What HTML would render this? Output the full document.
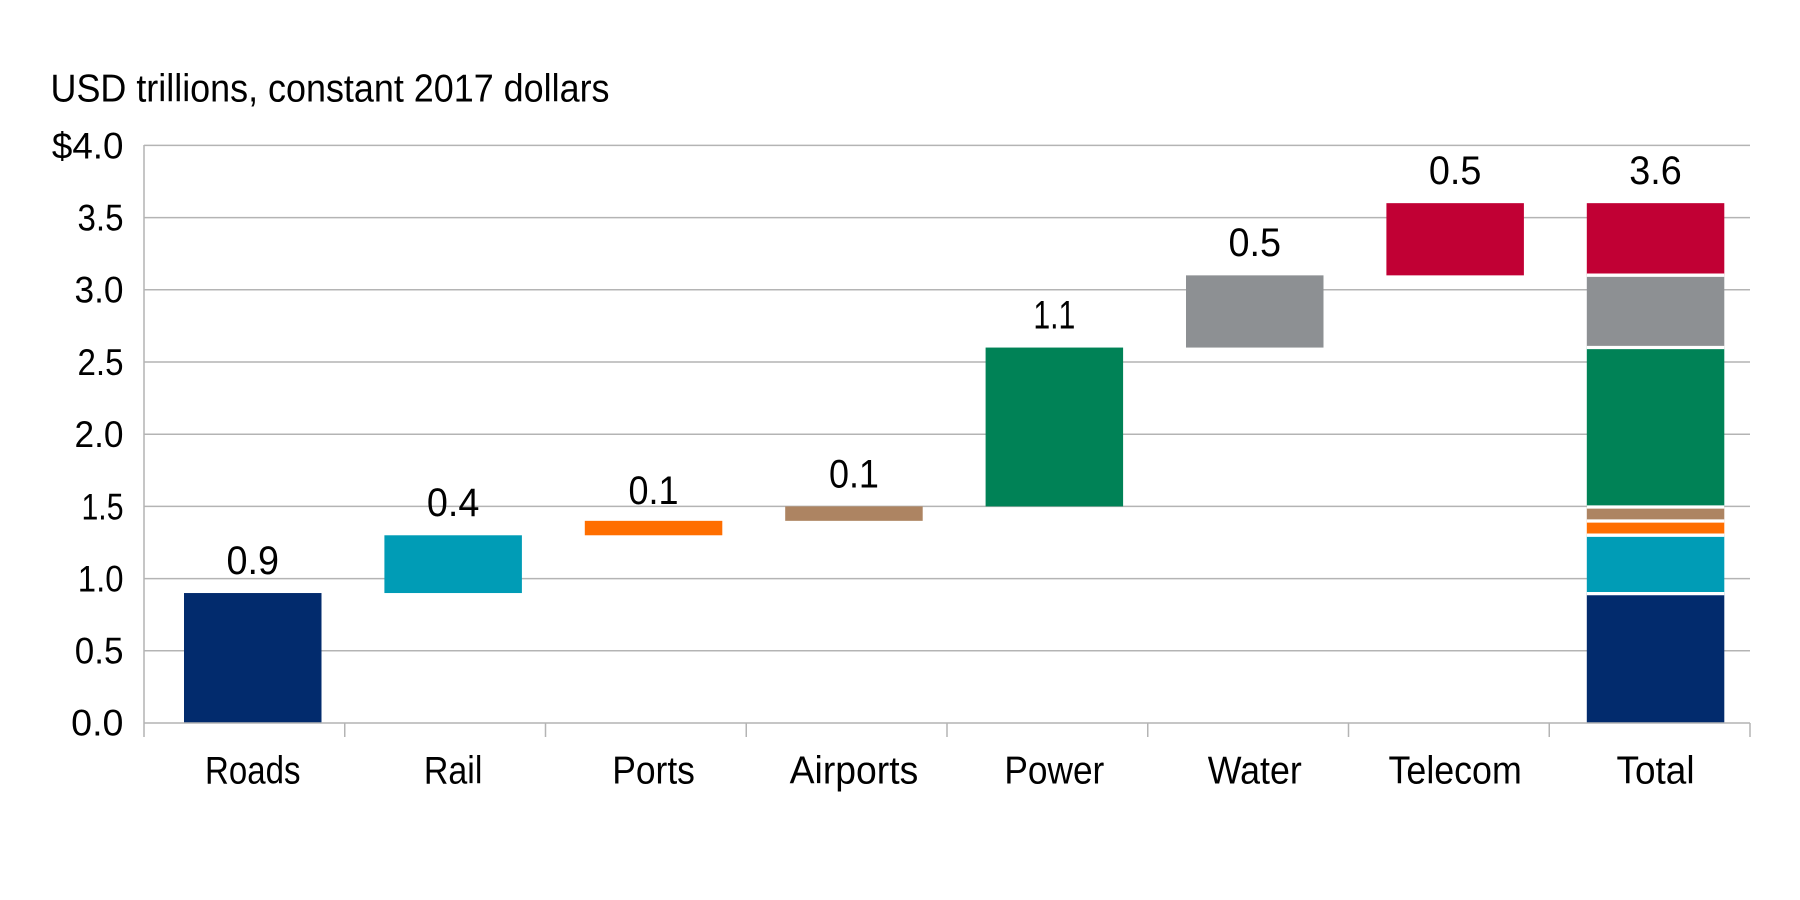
<!DOCTYPE html>
<html>
<head>
<meta charset="utf-8">
<style>
  html, body { margin:0; padding:0; background:#ffffff; }
  svg { display:block; }
  text { font-family: "Liberation Sans", "DejaVu Sans", sans-serif; fill:#000; }
</style>
</head>
<body>
<svg width="1800" height="900" viewBox="0 0 1800 900" xmlns="http://www.w3.org/2000/svg">
  <rect x="0" y="0" width="1800" height="900" fill="#ffffff"/>

  <!-- Title -->
  <text x="50.5" y="101.7" font-size="38.5" textLength="559" lengthAdjust="spacingAndGlyphs">USD trillions, constant 2017 dollars</text>

  <!-- Gridlines -->
  <g stroke="#b4b4b4" stroke-width="1.5">
    <line x1="144" y1="145.4" x2="1750" y2="145.4"/>
    <line x1="144" y1="217.6" x2="1750" y2="217.6"/>
    <line x1="144" y1="289.8" x2="1750" y2="289.8"/>
    <line x1="144" y1="362.0" x2="1750" y2="362.0"/>
    <line x1="144" y1="434.2" x2="1750" y2="434.2"/>
    <line x1="144" y1="506.4" x2="1750" y2="506.4"/>
    <line x1="144" y1="578.6" x2="1750" y2="578.6"/>
    <line x1="144" y1="650.8" x2="1750" y2="650.8"/>
  </g>

  <!-- Y tick labels -->
  <g font-size="37.5" text-anchor="end">
    <text x="123.5" y="158.3" textLength="71.6" lengthAdjust="spacingAndGlyphs">$4.0</text>
    <text x="123.5" y="230.5" textLength="46" lengthAdjust="spacingAndGlyphs">3.5</text>
    <text x="123.5" y="302.7" textLength="49" lengthAdjust="spacingAndGlyphs">3.0</text>
    <text x="123.5" y="374.9" textLength="46" lengthAdjust="spacingAndGlyphs">2.5</text>
    <text x="123.5" y="447.1" textLength="49" lengthAdjust="spacingAndGlyphs">2.0</text>
    <text x="123.5" y="519.3" textLength="42" lengthAdjust="spacingAndGlyphs">1.5</text>
    <text x="123.5" y="591.5" textLength="45.7" lengthAdjust="spacingAndGlyphs">1.0</text>
    <text x="123.5" y="663.7" textLength="48.7" lengthAdjust="spacingAndGlyphs">0.5</text>
    <text x="123.5" y="735.5" textLength="52.3" lengthAdjust="spacingAndGlyphs">0.0</text>
  </g>

  <!-- Waterfall bars -->
  <rect x="184" y="593.04" width="137.5" height="129.96" fill="#022b6d"/>
  <rect x="384.4" y="535.28" width="137.5" height="57.76" fill="#009cb6"/>
  <rect x="584.8" y="520.84" width="137.5" height="14.44" fill="#ff6e00"/>
  <rect x="785.2" y="506.4" width="137.5" height="14.44" fill="#ad8462"/>
  <rect x="985.6" y="347.56" width="137.5" height="158.84" fill="#008256"/>
  <rect x="1186" y="275.36" width="137.5" height="72.2" fill="#8d9093"/>
  <rect x="1386.4" y="203.16" width="137.5" height="72.2" fill="#c10034"/>

  <!-- Total stacked bar -->
  <rect x="1586.8" y="593.04" width="137.5" height="129.96" fill="#022b6d"/>
  <rect x="1586.8" y="535.28" width="137.5" height="57.76" fill="#009cb6"/>
  <rect x="1586.8" y="520.84" width="137.5" height="14.44" fill="#ff6e00"/>
  <rect x="1586.8" y="506.4" width="137.5" height="14.44" fill="#ad8462"/>
  <rect x="1586.8" y="347.56" width="137.5" height="158.84" fill="#008256"/>
  <rect x="1586.8" y="275.36" width="137.5" height="72.2" fill="#8d9093"/>
  <rect x="1586.8" y="203.16" width="137.5" height="72.2" fill="#c10034"/>
  <g stroke="#ffffff" stroke-width="3.3">
    <line x1="1586.8" y1="593.6" x2="1724.3" y2="593.6"/>
    <line x1="1586.8" y1="535.2" x2="1724.3" y2="535.2"/>
    <line x1="1586.8" y1="521" x2="1724.3" y2="521"/>
    <line x1="1586.8" y1="507" x2="1724.3" y2="507"/>
    <line x1="1586.8" y1="347.5" x2="1724.3" y2="347.5"/>
    <line x1="1586.8" y1="275.2" x2="1724.3" y2="275.2"/>
  </g>

  <!-- Axes -->
  <g stroke="#b4b4b4" stroke-width="1.5">
    <line x1="144" y1="145" x2="144" y2="737"/>
    <line x1="144" y1="723" x2="1750" y2="723"/>
    <line x1="344.75" y1="723" x2="344.75" y2="737"/>
    <line x1="545.5" y1="723" x2="545.5" y2="737"/>
    <line x1="746.25" y1="723" x2="746.25" y2="737"/>
    <line x1="947" y1="723" x2="947" y2="737"/>
    <line x1="1147.75" y1="723" x2="1147.75" y2="737"/>
    <line x1="1348.5" y1="723" x2="1348.5" y2="737"/>
    <line x1="1549.25" y1="723" x2="1549.25" y2="737"/>
    <line x1="1750" y1="723" x2="1750" y2="737"/>
  </g>

  <!-- Value labels -->
  <g font-size="40" text-anchor="middle">
    <text x="252.75" y="574" textLength="52.5" lengthAdjust="spacingAndGlyphs">0.9</text>
    <text x="453.15" y="516" textLength="52.5" lengthAdjust="spacingAndGlyphs">0.4</text>
    <text x="653.55" y="504" textLength="50" lengthAdjust="spacingAndGlyphs">0.1</text>
    <text x="853.95" y="487.3" textLength="50" lengthAdjust="spacingAndGlyphs">0.1</text>
    <text x="1054.35" y="328.3" textLength="42" lengthAdjust="spacingAndGlyphs">1.1</text>
    <text x="1254.75" y="256" textLength="52.5" lengthAdjust="spacingAndGlyphs">0.5</text>
    <text x="1455.15" y="184" textLength="52.5" lengthAdjust="spacingAndGlyphs">0.5</text>
    <text x="1655.55" y="184" textLength="52.5" lengthAdjust="spacingAndGlyphs">3.6</text>
  </g>

  <!-- Category labels -->
  <g font-size="38.5" text-anchor="middle">
    <text x="252.75" y="783.3" textLength="95.4" lengthAdjust="spacingAndGlyphs">Roads</text>
    <text x="453.15" y="783.3" textLength="58.5" lengthAdjust="spacingAndGlyphs">Rail</text>
    <text x="653.55" y="783.3" textLength="82.7" lengthAdjust="spacingAndGlyphs">Ports</text>
    <text x="853.95" y="783.3" textLength="128.6" lengthAdjust="spacingAndGlyphs">Airports</text>
    <text x="1054.35" y="783.3" textLength="99.9" lengthAdjust="spacingAndGlyphs">Power</text>
    <text x="1254.75" y="783.3" textLength="94.1" lengthAdjust="spacingAndGlyphs">Water</text>
    <text x="1455.15" y="783.3" textLength="133.2" lengthAdjust="spacingAndGlyphs">Telecom</text>
    <text x="1655.55" y="783.3" textLength="78" lengthAdjust="spacingAndGlyphs">Total</text>
  </g>
</svg>
</body>
</html>
